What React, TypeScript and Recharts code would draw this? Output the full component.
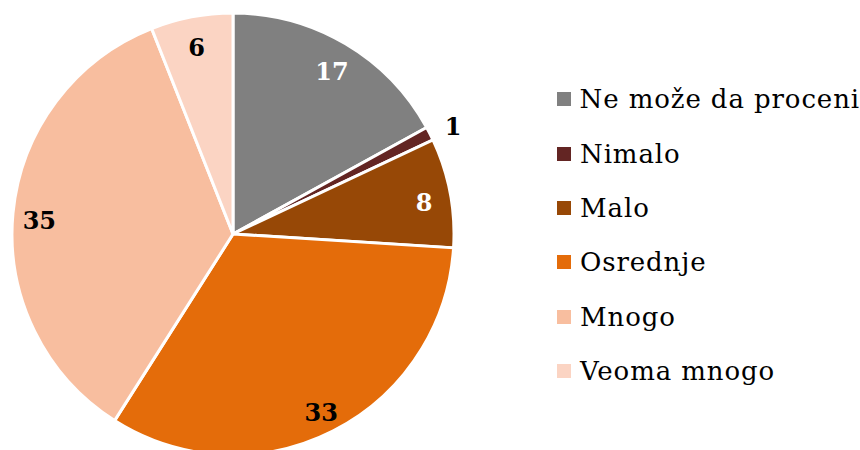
import { PieChart, Pie, Cell, Legend } from 'recharts'

const categories = ['Ne može da proceni', 'Nimalo', 'Malo', 'Osrednje', 'Mnogo', 'Veoma mnogo']
const values = [17, 1, 8, 33, 35, 6]

const colors = ['#808080', '#632523', '#974806', '#E46C0A', '#F8BE9F', '#FBD4C3']
const labelFills = ['#ffffff', '#000000', '#ffffff', '#000000', '#000000', '#000000']

const data = categories.map((name, i) => ({ name, value: values[i] }))

const FONT = '"DejaVu Serif", "Liberation Serif", serif'
const RAD = Math.PI / 180

const renderLabel = (props: any) => {
  const { cx, cy, midAngle, outerRadius, value, index } = props
  const r = value < 3 ? outerRadius + 26 : outerRadius * 0.88
  const x = cx + r * Math.cos(-midAngle * RAD)
  const y = cy + r * Math.sin(-midAngle * RAD) + 5
  return (
    <text
      x={x}
      y={y}
      fill={value < 3 ? '#000000' : labelFills[index]}
      textAnchor="middle"
      dominantBaseline="central"
      fontFamily={FONT}
      fontWeight="bold"
      fontSize={24}
    >
      {value}
    </text>
  )
}

const renderLegend = () => (
  <div>
    {categories.map((name, i) => (
      <div
        key={name}
        style={{
          display: 'flex',
          alignItems: 'center',
          height: 54.4,
          fontFamily: FONT,
          fontSize: 26,
          letterSpacing: 0.9,
          color: '#000',
          whiteSpace: 'nowrap',
        }}
      >
        <span style={{ width: 14, height: 14, background: colors[i], display: 'inline-block', marginRight: 9 }} />
        <span>{name}</span>
      </div>
    ))}
  </div>
)

export default function App() {
  return (
    <div>
      <style>{'body{margin:0}'}</style>
      <PieChart width={860} height={450}>
        <Pie
          data={data}
          dataKey="value"
          nameKey="name"
          cx={228}
          cy={229}
          outerRadius={221}
          startAngle={90}
          endAngle={-270}
          stroke="#ffffff"
          strokeWidth={3}
          label={renderLabel}
          labelLine={false}
          isAnimationActive={false}
        >
          {data.map((d, i) => (
            <Cell key={d.name} fill={colors[i]} />
          ))}
        </Pie>
        <Legend
          content={renderLegend}
          wrapperStyle={{ position: 'absolute', left: 557, top: 72, width: 303, height: 330 }}
        />
      </PieChart>
    </div>
  )
}
